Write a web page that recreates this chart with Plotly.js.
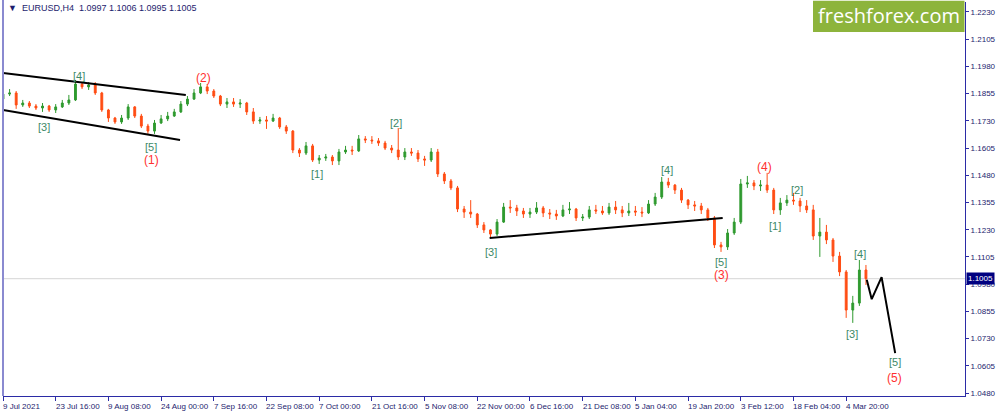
<!DOCTYPE html>
<html>
<head>
<meta charset="utf-8">
<script src="https://cdn.plot.ly/plotly-3.0.1.min.js"></script>
<style>html,body{margin:0;padding:0;background:#fff;}#chart{width:1000px;height:414px;}</style>
</head>
<body>
<div id="chart"></div>
<script>
// ---- DATA (EURUSD H4, each candle aggregates 8 H4 bars) ----
const symbolTitle = 'EURUSD,H4';
const lastQuote = [1.0997, 1.1006, 1.0995, 1.1005];
const barsPerCandle = 8;
const barsPerTick = 64;

const open = [
1.1830,1.1853,1.1858,1.1803,1.1812,1.1798,1.1789,1.1798,1.1780,1.1794,
1.1812,1.1826,1.1899,1.1886,1.1895,1.1858,1.1780,1.1743,1.1725,1.1743,
1.1794,1.1752,1.1706,1.1683,1.1720,1.1739,1.1752,1.1771,1.1807,1.1830,
1.1858,1.1886,1.1867,1.1844,1.1807,1.1817,1.1807,1.1812,1.1771,1.1729,
1.1734,1.1729,1.1743,1.1702,1.1683,1.1596,1.1582,1.1615,1.1550,1.1559,
1.1564,1.1546,1.1587,1.1596,1.1592,1.1647,1.1642,1.1638,1.1628,1.1605,
1.1596,1.1564,1.1587,1.1582,1.1555,1.1550,1.1587,1.1486,1.1454,1.1422,
1.1325,1.1311,1.1302,1.1252,1.1229,1.1210,1.1265,1.1334,1.1330,1.1316,
1.1302,1.1311,1.1330,1.1307,1.1302,1.1293,1.1321,1.1325,1.1284,1.1288,
1.1321,1.1316,1.1307,1.1334,1.1321,1.1307,1.1316,1.1311,1.1307,1.1348,
1.1380,1.1449,1.1435,1.1412,1.1366,1.1344,1.1339,1.1321,1.1284,1.1160,
1.1151,1.1215,1.1265,1.1440,1.1445,1.1431,1.1435,1.1412,1.1321,1.1353,
1.1366,1.1362,1.1339,1.1321,1.1201,1.1219,1.1183,1.1109,1.1036,1.0861,
1.0893,1.1045];
const high = [
1.1867,1.1876,1.1867,1.1826,1.1821,1.1807,1.1812,1.1803,1.1807,1.1826,
1.1849,1.1918,1.1908,1.1908,1.1908,1.1863,1.1785,1.1748,1.1757,1.1807,
1.1798,1.1762,1.1716,1.1734,1.1757,1.1771,1.1785,1.1821,1.1844,1.1876,
1.1904,1.1899,1.1876,1.1849,1.1835,1.1835,1.1830,1.1817,1.1789,1.1748,
1.1752,1.1762,1.1748,1.1711,1.1688,1.1605,1.1633,1.1624,1.1573,1.1578,
1.1573,1.1601,1.1615,1.1615,1.1665,1.1660,1.1660,1.1651,1.1638,1.1619,
1.1697,1.1605,1.1605,1.1596,1.1569,1.1605,1.1601,1.1495,1.1463,1.1431,
1.1339,1.1366,1.1307,1.1265,1.1233,1.1279,1.1353,1.1366,1.1344,1.1330,
1.1330,1.1357,1.1339,1.1325,1.1321,1.1344,1.1357,1.1330,1.1302,1.1339,
1.1344,1.1339,1.1353,1.1362,1.1339,1.1353,1.1339,1.1334,1.1366,1.1399,
1.1472,1.1468,1.1440,1.1422,1.1371,1.1362,1.1353,1.1330,1.1293,1.1174,
1.1233,1.1284,1.1463,1.1477,1.1458,1.1458,1.1491,1.1422,1.1376,1.1389,
1.1399,1.1376,1.1366,1.1344,1.1284,1.1252,1.1192,1.1128,1.1045,1.0926,
1.1091,1.1068];
const low = [
1.1826,1.1844,1.1785,1.1794,1.1789,1.1780,1.1771,1.1771,1.1766,1.1789,
1.1803,1.1821,1.1876,1.1872,1.1849,1.1771,1.1725,1.1716,1.1716,1.1734,
1.1743,1.1697,1.1670,1.1670,1.1716,1.1729,1.1748,1.1766,1.1798,1.1826,
1.1853,1.1853,1.1835,1.1798,1.1789,1.1794,1.1789,1.1757,1.1716,1.1716,
1.1693,1.1725,1.1693,1.1670,1.1582,1.1564,1.1573,1.1541,1.1532,1.1546,
1.1527,1.1527,1.1578,1.1573,1.1587,1.1628,1.1624,1.1615,1.1596,1.1582,
1.1550,1.1550,1.1569,1.1541,1.1523,1.1541,1.1472,1.1440,1.1412,1.1311,
1.1284,1.1284,1.1238,1.1215,1.1192,1.1201,1.1261,1.1307,1.1293,1.1284,
1.1284,1.1302,1.1288,1.1279,1.1275,1.1288,1.1302,1.1270,1.1270,1.1279,
1.1302,1.1298,1.1298,1.1302,1.1288,1.1293,1.1293,1.1288,1.1302,1.1339,
1.1371,1.1422,1.1394,1.1353,1.1325,1.1316,1.1302,1.1270,1.1146,1.1128,
1.1137,1.1206,1.1256,1.1422,1.1412,1.1408,1.1399,1.1302,1.1298,1.1339,
1.1344,1.1311,1.1307,1.1183,1.1105,1.1164,1.1082,1.1017,1.0825,1.0802,
1.0880,1.0976];
const close = [
1.1853,1.1858,1.1803,1.1812,1.1798,1.1789,1.1798,1.1780,1.1794,1.1812,
1.1826,1.1899,1.1886,1.1895,1.1858,1.1780,1.1743,1.1725,1.1743,1.1794,
1.1752,1.1706,1.1683,1.1720,1.1739,1.1752,1.1771,1.1807,1.1830,1.1858,
1.1886,1.1867,1.1844,1.1807,1.1817,1.1807,1.1812,1.1771,1.1729,1.1734,
1.1729,1.1743,1.1702,1.1683,1.1596,1.1582,1.1615,1.1550,1.1559,1.1564,
1.1546,1.1587,1.1596,1.1592,1.1647,1.1642,1.1638,1.1628,1.1605,1.1596,
1.1564,1.1587,1.1582,1.1555,1.1550,1.1587,1.1486,1.1454,1.1422,1.1325,
1.1311,1.1302,1.1252,1.1229,1.1210,1.1265,1.1334,1.1330,1.1316,1.1302,
1.1311,1.1330,1.1307,1.1302,1.1293,1.1321,1.1325,1.1284,1.1288,1.1321,
1.1316,1.1307,1.1334,1.1321,1.1307,1.1316,1.1311,1.1307,1.1348,1.1380,
1.1449,1.1435,1.1412,1.1366,1.1344,1.1339,1.1321,1.1284,1.1160,1.1151,
1.1215,1.1265,1.1440,1.1445,1.1431,1.1435,1.1412,1.1321,1.1353,1.1366,
1.1362,1.1339,1.1321,1.1201,1.1219,1.1183,1.1109,1.1036,1.0861,1.0893,
1.1045,1.1005];

const tickLabels = ['9 Jul 2021','23 Jul 16:00','9 Aug 08:00','24 Aug 00:00','7 Sep 16:00',
  '22 Sep 08:00','7 Oct 00:00','21 Oct 16:00','5 Nov 08:00','22 Nov 00:00','6 Dec 16:00',
  '21 Dec 08:00','5 Jan 04:00','19 Jan 20:00','3 Feb 12:00','18 Feb 04:00','4 Mar 20:00'];
const priceTicks = [1.2230,1.2105,1.1980,1.1855,1.1730,1.1605,1.1480,1.1355,1.1230,1.1105,1.0980,1.0855,1.0730,1.0605,1.0480];

// trend lines (bar index, price)
const channelUpperBars = [0, 222];   const channelUpperPrices = [1.1950, 1.1849];
const channelLowerBars = [0, 215];   const channelLowerPrices = [1.1780, 1.1642];
const supportBars = [591, 874];      const supportPrices = [1.1192, 1.1284];
const projectionBars = [1049, 1055, 1067, 1083.5];
const projectionPrices = [1.1000, 1.0911, 1.1012, 1.0663];

// wave labels
const waveText  = ['[3]','[4]','[5]','(1)','(2)','[1]','[2]','[3]','[4]','[5]','(3)','(4)','[1]','[2]','[3]','[4]','[5]','(5)'];
const waveBars  = [50, 92, 180, 180, 243, 381, 477, 593, 806, 872, 872, 925, 938, 964, 1031, 1041, 1083, 1083];
const wavePrice = [1.1702,1.1936,1.1608,1.1551,1.1927,1.1486,1.1720,1.1128,1.1504,1.1084,1.1020,1.1518,1.1247,1.1412,1.0751,1.1118,1.0624,1.0551];

// ---- CHART ----
const xCandle = close.map((_, i) => i * barsPerCandle);
const tickVals = tickLabels.map((_, k) => k * barsPerTick);
const FONT = 'Liberation Sans, Arial, sans-serif';
const AXIS = '#2b2ba6';
const TXT = '#1d1d6e';

const traces = [
  {
    type: 'candlestick', x: xCandle, open: open, high: high, low: low, close: close,
    increasing: {line: {color: '#2f9a2f', width: 1}, fillcolor: '#2f9a2f'},
    decreasing: {line: {color: '#ff4d14', width: 1}, fillcolor: '#ff4d14'},
    whiskerwidth: 0, hoverinfo: 'skip', showlegend: false
  },
  {type: 'scatter', mode: 'lines', x: channelUpperBars, y: channelUpperPrices, line: {color: '#000', width: 2}, hoverinfo: 'skip', showlegend: false},
  {type: 'scatter', mode: 'lines', x: channelLowerBars, y: channelLowerPrices, line: {color: '#000', width: 2}, hoverinfo: 'skip', showlegend: false},
  {type: 'scatter', mode: 'lines', x: supportBars, y: supportPrices, line: {color: '#000', width: 2}, hoverinfo: 'skip', showlegend: false},
  {type: 'scatter', mode: 'lines', x: projectionBars, y: projectionPrices, line: {color: '#000', width: 2}, hoverinfo: 'skip', showlegend: false}
];

const annotations = waveText.map((t, i) => ({
  x: waveBars[i], y: wavePrice[i], xref: 'x', yref: 'y', text: t, showarrow: false,
  font: {family: FONT, size: t[0] === '(' ? 12 : 11, color: t[0] === '(' ? '#ff3030' : '#3d8a68'}
}));
tickLabels.forEach((t, k) => annotations.push({
  x: tickVals[k], xref: 'x', y: -0.0095, yref: 'paper', xanchor: 'left', yanchor: 'top',
  xshift: -2, text: t, showarrow: false, font: {family: FONT, size: 8, color: TXT}
}));
annotations.push({
  xref: 'paper', yref: 'paper', x: 0.003, y: 0.985, xanchor: 'left', yanchor: 'middle',
  text: '\u25BC\u00A0 ' + symbolTitle + '\u00A0\u00A0' + lastQuote.map(v => v.toFixed(4)).join(' '),
  showarrow: false, font: {family: FONT, size: 9, color: TXT}
});
annotations.push({
  xref: 'paper', yref: 'y', x: 1.001, y: close[close.length - 1], xanchor: 'left', yanchor: 'middle',
  text: close[close.length - 1].toFixed(4), showarrow: false, bgcolor: '#000080',
  borderpad: 1, font: {family: FONT, size: 8, color: '#ffffff'}
});
annotations.push({
  xref: 'paper', yref: 'paper', x: 0.9215, y: 0.966, xanchor: 'center', yanchor: 'middle',
  text: 'freshforex.com', showarrow: false, font: {family: 'Open Sans, sans-serif', size: 20, color: '#ffffff'}
});

const shapes = [
  {type: 'line', xref: 'paper', yref: 'y', x0: 0, x1: 1, y0: close[close.length - 1], y1: close[close.length - 1], line: {color: '#d6d6d6', width: 1}, layer: 'below'},
  {type: 'line', xref: 'paper', yref: 'paper', x0: 0, x1: 0, y0: 0, y1: 1.01, line: {color: '#8a8ad0', width: 2}},
  {type: 'rect', xref: 'paper', yref: 'paper', x0: 0.842, x1: 0.9995, y0: 0.924, y1: 1.003, fillcolor: '#8db43c', line: {width: 0}, layer: 'above'}
];

const layout = {
  width: 1000, height: 414,
  margin: {l: 3, r: 35, t: 2, b: 18, pad: 0},
  paper_bgcolor: '#ffffff', plot_bgcolor: '#ffffff',
  showlegend: false, boxgap: 0.6,
  xaxis: {
    range: [0, 1168.3], showgrid: false, zeroline: false, fixedrange: true,
    rangeslider: {visible: false},
    tickmode: 'array', tickvals: tickVals, showticklabels: false,
    ticks: 'outside', ticklen: 4, tickcolor: AXIS, tickwidth: 1,
    showline: true, linecolor: AXIS, linewidth: 1
  },
  yaxis: {
    side: 'right', range: [1.04662, 1.22759], showgrid: false, zeroline: false, fixedrange: true,
    tickmode: 'array', tickvals: priceTicks, ticktext: priceTicks.map(v => v.toFixed(4)),
    ticks: 'outside', ticklen: 3, tickcolor: AXIS, tickwidth: 1,
    showline: true, linecolor: AXIS, linewidth: 1,
    tickfont: {family: FONT, size: 8, color: TXT}
  },
  annotations: annotations,
  shapes: shapes
};

Plotly.newPlot('chart', traces, layout, {displayModeBar: false, staticPlot: true});
</script>
</body>
</html>
